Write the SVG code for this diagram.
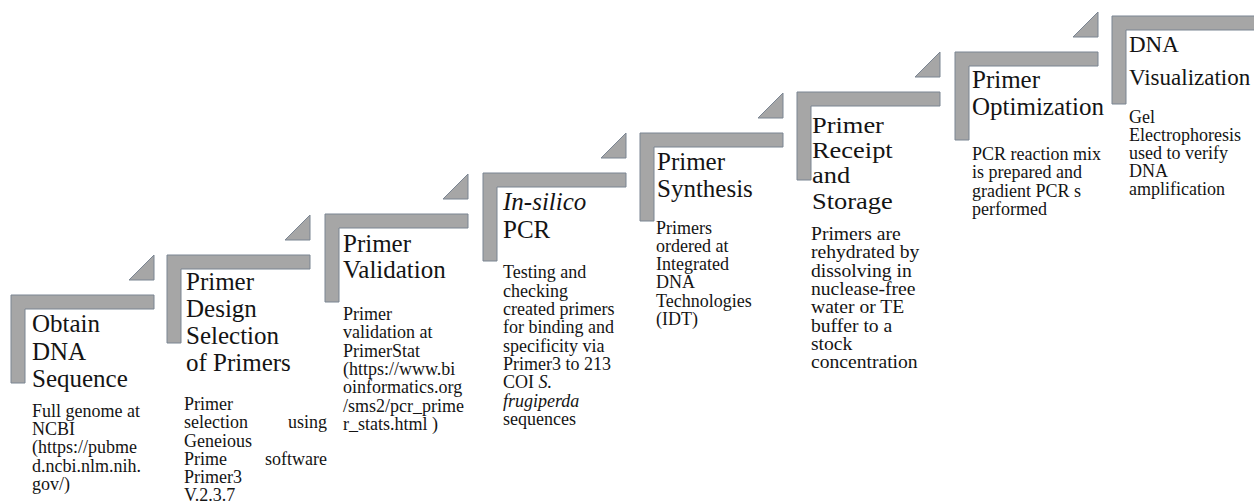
<svg xmlns="http://www.w3.org/2000/svg" width="1254" height="501" viewBox="0 0 1254 501">
<style>
.bg{fill:#ffffff}
.band{fill:#a6a6a6;stroke:#7b8592;stroke-width:1}
.h{font-family:"Liberation Serif","Times New Roman",serif;font-size:25px;fill:#141414}
.b{font-family:"Liberation Serif","Times New Roman",serif;font-size:18px;fill:#141414}
.i{font-style:italic}
</style>
<defs>
<path id="L" d="M0,0 H143 V14 H14 V88 H0 Z"/>
<path id="T" d="M118,-15 L143,-40 L143,-15 Z"/>
</defs>
<rect class="bg" x="0" y="0" width="1254" height="501"/>
<g id="connectors">
<use href="#T" class="band" x="11" y="295"/>
<use href="#T" class="band" x="167" y="255"/>
<use href="#T" class="band" x="325" y="214"/>
<use href="#T" class="band" x="483" y="173"/>
<use href="#T" class="band" x="640" y="133"/>
<use href="#T" class="band" x="797" y="92"/>
<use href="#T" class="band" x="955" y="52"/>
</g>
<g id="step1">
<use href="#L" class="band" x="11" y="295"/>
<text class="h"><tspan x="32" y="332">Obtain</tspan><tspan x="32" y="360">DNA</tspan><tspan x="32" y="387">Sequence</tspan></text>
<text class="b"><tspan x="32" y="417">Full genome at</tspan><tspan x="32" y="435">NCBI</tspan><tspan x="32" y="453">(https://pubme</tspan><tspan x="32" y="472">d.ncbi.nlm.nih.</tspan><tspan x="32" y="490">gov/)</tspan></text>
</g>
<g id="step2">
<use href="#L" class="band" x="167" y="255"/>
<text class="h"><tspan x="186" y="290">Primer</tspan><tspan x="186" y="317">Design</tspan><tspan x="186" y="344">Selection</tspan><tspan x="186" y="371">of Primers</tspan></text>
<text class="b"><tspan x="184" y="410">Primer</tspan><tspan x="184" y="428">selection</tspan><tspan x="184" y="447">Geneious</tspan><tspan x="184" y="465">Prime</tspan><tspan x="184" y="483">Primer3</tspan><tspan x="184" y="501">V.2.3.7</tspan></text>
<text class="b" text-anchor="end"><tspan x="327" y="428">using</tspan><tspan x="327" y="465">software</tspan></text>
</g>
<g id="step3">
<use href="#L" class="band" x="325" y="214"/>
<text class="h"><tspan x="343" y="252">Primer</tspan><tspan x="343" y="278">Validation</tspan></text>
<text class="b"><tspan x="343" y="320">Primer</tspan><tspan x="343" y="338">validation at</tspan><tspan x="343" y="357">PrimerStat</tspan><tspan x="343" y="375">(https://www.bi</tspan><tspan x="343" y="393">oinformatics.org</tspan><tspan x="343" y="412">/sms2/pcr_prime</tspan><tspan x="343" y="430">r_stats.html )</tspan></text>
</g>
<g id="step4">
<use href="#L" class="band" x="483" y="173"/>
<text class="h"><tspan x="503" y="210" class="i">In-silico</tspan><tspan x="503" y="238">PCR</tspan></text>
<text class="b"><tspan x="503" y="278">Testing and</tspan><tspan x="503" y="297">checking</tspan><tspan x="503" y="315">created primers</tspan><tspan x="503" y="333">for binding and</tspan><tspan x="503" y="352">specificity via</tspan><tspan x="503" y="370">Primer3 to 213</tspan><tspan x="503" y="388">COI <tspan class="i">S.</tspan></tspan><tspan x="503" y="407" class="i">frugiperda</tspan><tspan x="503" y="425">sequences</tspan></text>
</g>
<g id="step5">
<use href="#L" class="band" x="640" y="133"/>
<text class="h"><tspan x="657" y="170">Primer</tspan><tspan x="657" y="197">Synthesis</tspan></text>
<text class="b"><tspan x="656" y="234">Primers</tspan><tspan x="656" y="252">ordered at</tspan><tspan x="656" y="270">Integrated</tspan><tspan x="656" y="288">DNA</tspan><tspan x="656" y="307">Technologies</tspan><tspan x="656" y="325">(IDT)</tspan></text>
</g>
<g id="step6">
<use href="#L" class="band" x="797" y="92"/>
<text class="h" style="font-size:23px" transform="translate(812,0) scale(1.15,1) translate(-812,0)"><tspan x="812" y="133">Primer</tspan><tspan x="812" y="158">Receipt</tspan><tspan x="812" y="183">and</tspan><tspan x="812" y="209">Storage</tspan></text>
<text class="b" transform="translate(811,0) scale(1.09,1) translate(-811,0)"><tspan x="811" y="240">Primers are</tspan><tspan x="811" y="258">rehydrated by</tspan><tspan x="811" y="277">dissolving in</tspan><tspan x="811" y="295">nuclease-free</tspan><tspan x="811" y="313">water or TE</tspan><tspan x="811" y="332">buffer to a</tspan><tspan x="811" y="350">stock</tspan><tspan x="811" y="368">concentration</tspan></text>
</g>
<g id="step7">
<use href="#L" class="band" x="955" y="52"/>
<text class="h"><tspan x="972" y="88">Primer</tspan><tspan x="972" y="115">Optimization</tspan></text>
<text class="b"><tspan x="972" y="160">PCR reaction mix</tspan><tspan x="972" y="178">is prepared and</tspan><tspan x="972" y="197">gradient PCR s</tspan><tspan x="972" y="215">performed</tspan></text>
</g>
<g id="step8">
<use href="#L" class="band" x="1112" y="16"/>
<text class="h" style="font-size:23px"><tspan x="1129" y="52">DNA</tspan><tspan x="1129" y="85">Visualization</tspan></text>
<text class="b"><tspan x="1129" y="123">Gel</tspan><tspan x="1129" y="141">Electrophoresis</tspan><tspan x="1129" y="159">used to verify</tspan><tspan x="1129" y="177">DNA</tspan><tspan x="1129" y="195">amplification</tspan></text>
</g>
</svg>
